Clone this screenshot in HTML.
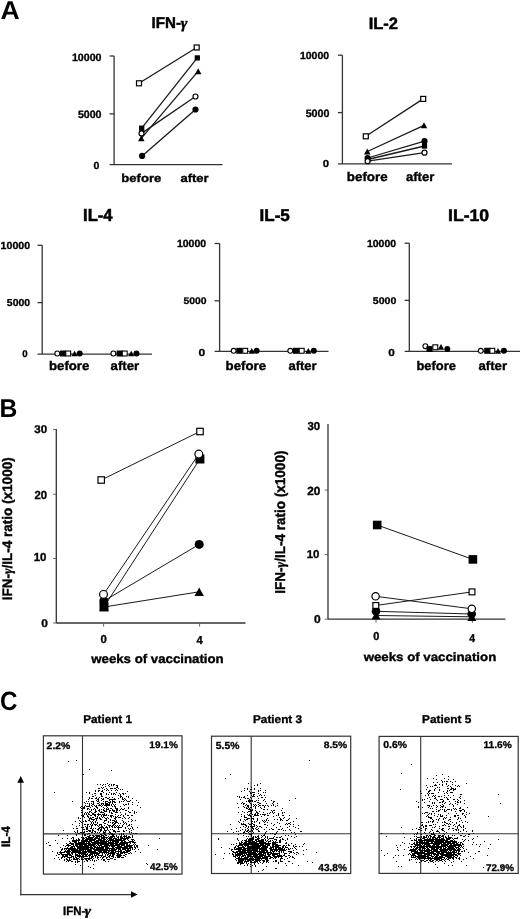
<!DOCTYPE html>
<html><head><meta charset="utf-8"><style>
html,body{margin:0;padding:0;background:#fff;}
svg{display:block;will-change:transform;}
text{font-family:"Liberation Sans",sans-serif;font-weight:bold;fill:#000;stroke:#000;text-rendering:geometricPrecision;}
text.g{font-family:"Liberation Serif",serif;font-style:italic;}
text.L{font-weight:normal;}
tspan.gi{font-family:"Liberation Serif",serif;font-style:italic;font-weight:bold;}
</style></head><body>
<svg width="520" height="919" viewBox="0 0 520 919">
<rect width="520" height="919" fill="#fff"/>
<line x1="114.10" y1="56.00" x2="114.10" y2="164.60" stroke="#333" stroke-width="1.3"/>
<line x1="109.60" y1="56.00" x2="114.10" y2="56.00" stroke="#333" stroke-width="1.3"/>
<line x1="109.60" y1="113.90" x2="114.10" y2="113.90" stroke="#333" stroke-width="1.3"/>
<line x1="109.60" y1="164.60" x2="222.50" y2="164.60" stroke="#333" stroke-width="1.3"/>
<line x1="342.40" y1="55.20" x2="342.40" y2="163.90" stroke="#333" stroke-width="1.3"/>
<line x1="337.90" y1="55.20" x2="342.40" y2="55.20" stroke="#333" stroke-width="1.3"/>
<line x1="337.90" y1="112.60" x2="342.40" y2="112.60" stroke="#333" stroke-width="1.3"/>
<line x1="337.90" y1="163.90" x2="452.00" y2="163.90" stroke="#333" stroke-width="1.3"/>
<line x1="42.20" y1="245.30" x2="42.20" y2="354.10" stroke="#333" stroke-width="1.3"/>
<line x1="37.50" y1="245.30" x2="42.20" y2="245.30" stroke="#333" stroke-width="1.3"/>
<line x1="37.50" y1="302.60" x2="42.20" y2="302.60" stroke="#333" stroke-width="1.3"/>
<line x1="37.50" y1="354.10" x2="152.00" y2="354.10" stroke="#333" stroke-width="1.3"/>
<line x1="219.60" y1="243.50" x2="219.60" y2="351.30" stroke="#333" stroke-width="1.3"/>
<line x1="214.60" y1="243.50" x2="219.60" y2="243.50" stroke="#333" stroke-width="1.3"/>
<line x1="214.60" y1="300.80" x2="219.60" y2="300.80" stroke="#333" stroke-width="1.3"/>
<line x1="214.60" y1="351.30" x2="328.50" y2="351.30" stroke="#333" stroke-width="1.3"/>
<line x1="409.30" y1="243.20" x2="409.30" y2="351.30" stroke="#333" stroke-width="1.3"/>
<line x1="404.60" y1="243.20" x2="409.30" y2="243.20" stroke="#333" stroke-width="1.3"/>
<line x1="404.60" y1="300.40" x2="409.30" y2="300.40" stroke="#333" stroke-width="1.3"/>
<line x1="404.60" y1="351.30" x2="520.00" y2="351.30" stroke="#333" stroke-width="1.3"/>
<line x1="139.00" y1="83.30" x2="196.70" y2="47.50" stroke="#1a1a1a" stroke-width="1.3"/>
<line x1="141.70" y1="128.20" x2="197.30" y2="57.90" stroke="#1a1a1a" stroke-width="1.3"/>
<line x1="141.30" y1="138.30" x2="198.20" y2="71.20" stroke="#1a1a1a" stroke-width="1.3"/>
<line x1="142.10" y1="155.90" x2="195.50" y2="109.50" stroke="#1a1a1a" stroke-width="1.3"/>
<line x1="141.50" y1="133.40" x2="195.50" y2="96.50" stroke="#1a1a1a" stroke-width="1.3"/>
<rect x="136.50" y="80.80" width="5.00" height="5.00" fill="#fff" stroke="#000" stroke-width="1.2"/>
<rect x="194.20" y="45.00" width="5.00" height="5.00" fill="#fff" stroke="#000" stroke-width="1.2"/>
<rect x="139.06" y="125.56" width="5.27" height="5.27" fill="#000"/>
<rect x="194.67" y="55.27" width="5.27" height="5.27" fill="#000"/>
<path d="M141.30 135.36L144.56 141.25L138.05 141.25Z" fill="#000"/>
<path d="M198.20 68.26L201.45 74.14L194.94 74.14Z" fill="#000"/>
<circle cx="142.10" cy="155.90" r="3.10" fill="#000"/>
<circle cx="195.50" cy="109.50" r="3.10" fill="#000"/>
<circle cx="141.50" cy="133.40" r="2.50" fill="#fff" stroke="#000" stroke-width="1.2"/>
<circle cx="195.50" cy="96.50" r="2.50" fill="#fff" stroke="#000" stroke-width="1.2"/>
<line x1="365.80" y1="136.30" x2="423.20" y2="98.90" stroke="#1a1a1a" stroke-width="1.3"/>
<line x1="367.30" y1="151.50" x2="424.00" y2="125.30" stroke="#1a1a1a" stroke-width="1.3"/>
<line x1="367.60" y1="159.50" x2="424.50" y2="146.00" stroke="#1a1a1a" stroke-width="1.3"/>
<line x1="367.60" y1="158.00" x2="424.50" y2="141.20" stroke="#1a1a1a" stroke-width="1.3"/>
<line x1="367.60" y1="161.20" x2="424.50" y2="152.70" stroke="#1a1a1a" stroke-width="1.3"/>
<rect x="363.30" y="133.80" width="5.00" height="5.00" fill="#fff" stroke="#000" stroke-width="1.2"/>
<rect x="420.70" y="96.40" width="5.00" height="5.00" fill="#fff" stroke="#000" stroke-width="1.2"/>
<path d="M367.30 148.56L370.56 154.44L364.05 154.44Z" fill="#000"/>
<path d="M424.00 122.36L427.25 128.25L420.75 128.25Z" fill="#000"/>
<rect x="364.97" y="156.87" width="5.27" height="5.27" fill="#000"/>
<rect x="421.87" y="143.37" width="5.27" height="5.27" fill="#000"/>
<circle cx="367.60" cy="158.00" r="3.10" fill="#000"/>
<circle cx="424.50" cy="141.20" r="3.10" fill="#000"/>
<circle cx="367.60" cy="161.20" r="2.50" fill="#fff" stroke="#000" stroke-width="1.2"/>
<circle cx="424.50" cy="152.70" r="2.50" fill="#fff" stroke="#000" stroke-width="1.2"/>
<circle cx="57.30" cy="353.50" r="2.45" fill="#fff" stroke="#000" stroke-width="1.1"/>
<rect x="60.00" y="350.50" width="6.00" height="6.00" fill="#000"/>
<rect x="65.75" y="351.05" width="4.90" height="4.90" fill="#fff" stroke="#000" stroke-width="1.1"/>
<path d="M74.60 350.65L77.75 356.35L71.45 356.35Z" fill="#000"/>
<circle cx="79.70" cy="353.50" r="3.00" fill="#000"/>
<circle cx="113.40" cy="353.50" r="2.45" fill="#fff" stroke="#000" stroke-width="1.1"/>
<rect x="116.60" y="350.50" width="6.00" height="6.00" fill="#000"/>
<rect x="122.25" y="351.05" width="4.90" height="4.90" fill="#fff" stroke="#000" stroke-width="1.1"/>
<path d="M131.20 350.65L134.35 356.35L128.05 356.35Z" fill="#000"/>
<circle cx="136.50" cy="353.50" r="3.00" fill="#000"/>
<circle cx="233.70" cy="350.80" r="2.45" fill="#fff" stroke="#000" stroke-width="1.1"/>
<rect x="236.30" y="347.80" width="6.00" height="6.00" fill="#000"/>
<rect x="242.75" y="348.35" width="4.90" height="4.90" fill="#fff" stroke="#000" stroke-width="1.1"/>
<path d="M251.70 347.95L254.85 353.65L248.55 353.65Z" fill="#000"/>
<circle cx="256.60" cy="350.80" r="3.00" fill="#000"/>
<circle cx="290.30" cy="350.80" r="2.45" fill="#fff" stroke="#000" stroke-width="1.1"/>
<rect x="292.90" y="347.80" width="6.00" height="6.00" fill="#000"/>
<rect x="299.25" y="348.35" width="4.90" height="4.90" fill="#fff" stroke="#000" stroke-width="1.1"/>
<path d="M308.30 347.95L311.45 353.65L305.15 353.65Z" fill="#000"/>
<circle cx="313.80" cy="350.80" r="3.00" fill="#000"/>
<circle cx="425.40" cy="346.20" r="2.45" fill="#fff" stroke="#000" stroke-width="1.1"/>
<rect x="426.50" y="346.00" width="6.00" height="6.00" fill="#000"/>
<rect x="432.85" y="344.85" width="4.90" height="4.90" fill="#fff" stroke="#000" stroke-width="1.1"/>
<path d="M441.00 343.95L444.15 349.65L437.85 349.65Z" fill="#000"/>
<circle cx="447.30" cy="349.00" r="3.00" fill="#000"/>
<circle cx="480.80" cy="350.80" r="2.45" fill="#fff" stroke="#000" stroke-width="1.1"/>
<rect x="484.20" y="347.80" width="6.00" height="6.00" fill="#000"/>
<rect x="489.85" y="348.35" width="4.90" height="4.90" fill="#fff" stroke="#000" stroke-width="1.1"/>
<path d="M498.00 347.95L501.15 353.65L494.85 353.65Z" fill="#000"/>
<circle cx="503.90" cy="350.80" r="3.00" fill="#000"/>
<line x1="56.30" y1="429.00" x2="56.30" y2="623.00" stroke="#333" stroke-width="1.3"/>
<line x1="53.10" y1="429.50" x2="56.30" y2="429.50" stroke="#555" stroke-width="0.9"/>
<line x1="53.10" y1="494.30" x2="56.30" y2="494.30" stroke="#555" stroke-width="0.9"/>
<line x1="53.10" y1="558.50" x2="56.30" y2="558.50" stroke="#555" stroke-width="0.9"/>
<line x1="53.10" y1="623.00" x2="56.30" y2="623.00" stroke="#555" stroke-width="0.9"/>
<line x1="56.30" y1="623.00" x2="245.50" y2="623.00" stroke="#333" stroke-width="1.3"/>
<line x1="103.60" y1="623.00" x2="103.60" y2="626.50" stroke="#555" stroke-width="0.9"/>
<line x1="199.60" y1="623.00" x2="199.60" y2="626.50" stroke="#555" stroke-width="0.9"/>
<line x1="328.00" y1="424.10" x2="328.00" y2="619.20" stroke="#333" stroke-width="1.3"/>
<line x1="324.80" y1="490.10" x2="328.00" y2="490.10" stroke="#555" stroke-width="0.9"/>
<line x1="324.80" y1="554.60" x2="328.00" y2="554.60" stroke="#555" stroke-width="0.9"/>
<line x1="324.80" y1="619.20" x2="328.00" y2="619.20" stroke="#555" stroke-width="0.9"/>
<line x1="328.00" y1="619.20" x2="505.50" y2="619.20" stroke="#333" stroke-width="1.3"/>
<line x1="376.00" y1="619.20" x2="376.00" y2="622.70" stroke="#555" stroke-width="0.9"/>
<line x1="472.40" y1="619.20" x2="472.40" y2="622.70" stroke="#555" stroke-width="0.9"/>
<line x1="101.20" y1="480.00" x2="200.00" y2="431.50" stroke="#1a1a1a" stroke-width="1.0"/>
<line x1="104.00" y1="607.00" x2="199.20" y2="591.80" stroke="#1a1a1a" stroke-width="1.0"/>
<line x1="103.80" y1="601.00" x2="199.20" y2="544.40" stroke="#1a1a1a" stroke-width="1.0"/>
<line x1="104.00" y1="606.80" x2="199.90" y2="459.00" stroke="#1a1a1a" stroke-width="1.0"/>
<line x1="103.50" y1="594.40" x2="198.80" y2="454.10" stroke="#1a1a1a" stroke-width="1.0"/>
<rect x="97.98" y="476.77" width="6.45" height="6.45" fill="#fff" stroke="#000" stroke-width="1.2"/>
<rect x="196.78" y="428.27" width="6.45" height="6.45" fill="#fff" stroke="#000" stroke-width="1.2"/>
<path d="M104.00 602.73L108.72 611.27L99.28 611.27Z" fill="#000"/>
<path d="M199.20 587.52L203.92 596.07L194.47 596.07Z" fill="#000"/>
<circle cx="103.80" cy="601.00" r="4.50" fill="#000"/>
<circle cx="199.20" cy="544.40" r="4.50" fill="#000"/>
<rect x="99.50" y="602.30" width="9.00" height="9.00" fill="#000"/>
<rect x="195.40" y="454.50" width="9.00" height="9.00" fill="#000"/>
<circle cx="103.50" cy="594.40" r="3.90" fill="#fff" stroke="#000" stroke-width="1.2"/>
<circle cx="198.80" cy="454.10" r="3.90" fill="#fff" stroke="#000" stroke-width="1.2"/>
<line x1="377.20" y1="525.00" x2="472.90" y2="559.40" stroke="#1a1a1a" stroke-width="1.0"/>
<line x1="376.00" y1="615.50" x2="471.80" y2="616.80" stroke="#1a1a1a" stroke-width="1.0"/>
<line x1="376.00" y1="611.30" x2="471.70" y2="614.00" stroke="#1a1a1a" stroke-width="1.0"/>
<line x1="375.80" y1="605.50" x2="472.00" y2="591.90" stroke="#1a1a1a" stroke-width="1.0"/>
<line x1="375.60" y1="596.30" x2="471.80" y2="608.80" stroke="#1a1a1a" stroke-width="1.0"/>
<rect x="372.90" y="520.70" width="8.60" height="8.60" fill="#000"/>
<rect x="468.60" y="555.10" width="8.60" height="8.60" fill="#000"/>
<path d="M376.00 611.41L380.51 619.59L371.49 619.59Z" fill="#000"/>
<path d="M471.80 612.71L476.31 620.88L467.29 620.88Z" fill="#000"/>
<circle cx="376.00" cy="611.30" r="4.30" fill="#000"/>
<circle cx="471.70" cy="614.00" r="4.30" fill="#000"/>
<rect x="372.87" y="602.57" width="5.85" height="5.85" fill="#fff" stroke="#000" stroke-width="1.2"/>
<rect x="469.07" y="588.97" width="5.85" height="5.85" fill="#fff" stroke="#000" stroke-width="1.2"/>
<circle cx="375.60" cy="596.30" r="3.70" fill="#fff" stroke="#000" stroke-width="1.2"/>
<circle cx="471.80" cy="608.80" r="3.70" fill="#fff" stroke="#000" stroke-width="1.2"/>
<rect x="43.40" y="735.80" width="138.60" height="138.30" fill="none" stroke="#333" stroke-width="1.2"/>
<line x1="82.50" y1="735.80" x2="82.50" y2="874.10" stroke="#333" stroke-width="1.1"/>
<line x1="43.40" y1="833.90" x2="182.00" y2="833.90" stroke="#333" stroke-width="1.1"/>
<rect x="211.50" y="736.20" width="139.20" height="137.30" fill="none" stroke="#333" stroke-width="1.2"/>
<line x1="251.20" y1="736.20" x2="251.20" y2="873.50" stroke="#333" stroke-width="1.1"/>
<line x1="211.50" y1="833.80" x2="350.70" y2="833.80" stroke="#333" stroke-width="1.1"/>
<rect x="379.10" y="736.40" width="139.10" height="137.00" fill="none" stroke="#333" stroke-width="1.2"/>
<line x1="420.70" y1="736.40" x2="420.70" y2="873.40" stroke="#333" stroke-width="1.1"/>
<line x1="379.10" y1="833.80" x2="518.20" y2="833.80" stroke="#333" stroke-width="1.1"/>
<line x1="20.80" y1="895.30" x2="20.80" y2="782.00" stroke="#333" stroke-width="1.2"/>
<path d="M20.7 776L24 782.7L17.3 782.7Z" fill="#000"/>
<line x1="20.20" y1="894.70" x2="131.50" y2="894.70" stroke="#333" stroke-width="1.2"/>
<path d="M137.6 894.5L131 891.2L131 897.8Z" fill="#000"/>
<path d="M76 760h1v1h-1zM68 761h1v1h-1zM89 769h1v1h-1zM111 770h1v1h-1zM83 774h1v1h-1zM107 783h1v1h-1zM97 784h1v1h-1zM100 784h1v1h-1zM103 784h1v1h-1zM105 784h1v1h-1zM109 784h1v1h-1zM111 784h1v1h-1zM113 784h2v1h-2zM102 785h1v1h-1zM108 785h1v1h-1zM111 785h1v1h-1zM113 785h1v1h-1zM116 785h2v1h-2zM105 786h1v1h-1zM109 786h1v1h-1zM117 786h1v1h-1zM101 787h1v1h-1zM103 787h1v1h-1zM116 787h2v1h-2zM98 788h2v1h-2zM102 788h1v1h-1zM106 788h1v1h-1zM110 788h3v1h-3zM114 788h2v1h-2zM118 788h1v1h-1zM104 789h1v1h-1zM107 789h1v1h-1zM116 789h1v1h-1zM120 789h1v1h-1zM122 789h1v1h-1zM95 790h1v1h-1zM98 790h2v1h-2zM102 790h1v1h-1zM106 790h1v1h-1zM108 790h1v1h-1zM111 790h1v1h-1zM115 790h1v1h-1zM117 790h1v1h-1zM95 791h1v1h-1zM98 791h1v1h-1zM101 791h2v1h-2zM127 791h1v1h-1zM54 792h1v1h-1zM86 792h1v1h-1zM89 792h1v1h-1zM103 792h1v1h-1zM109 792h1v1h-1zM116 792h1v1h-1zM89 793h1v1h-1zM94 793h2v1h-2zM100 793h2v1h-2zM106 793h1v1h-1zM111 793h1v1h-1zM113 793h2v1h-2zM119 793h1v1h-1zM122 793h2v1h-2zM125 793h1v1h-1zM92 794h1v1h-1zM100 794h2v1h-2zM106 794h1v1h-1zM108 794h1v1h-1zM111 794h1v1h-1zM113 794h1v1h-1zM115 794h1v1h-1zM120 794h1v1h-1zM123 794h1v1h-1zM95 795h1v1h-1zM101 795h1v1h-1zM118 795h1v1h-1zM120 795h1v1h-1zM82 796h1v1h-1zM92 796h2v1h-2zM101 796h2v1h-2zM120 796h2v1h-2zM126 796h1v1h-1zM128 796h1v1h-1zM89 797h1v1h-1zM96 797h1v1h-1zM99 797h1v1h-1zM105 797h2v1h-2zM109 797h1v1h-1zM112 797h1v1h-1zM120 797h1v1h-1zM122 797h1v1h-1zM128 797h1v1h-1zM89 798h1v1h-1zM91 798h2v1h-2zM95 798h2v1h-2zM98 798h1v1h-1zM101 798h1v1h-1zM103 798h1v1h-1zM107 798h2v1h-2zM114 798h1v1h-1zM118 798h1v1h-1zM122 798h1v1h-1zM124 798h1v1h-1zM132 798h1v1h-1zM88 799h1v1h-1zM97 799h2v1h-2zM102 799h2v1h-2zM109 799h7v1h-7zM122 799h2v1h-2zM125 799h1v1h-1zM96 800h1v1h-1zM98 800h1v1h-1zM101 800h1v1h-1zM109 800h1v1h-1zM112 800h1v1h-1zM124 800h1v1h-1zM126 800h1v1h-1zM130 800h1v1h-1zM136 800h1v1h-1zM72 801h1v1h-1zM86 801h1v1h-1zM88 801h1v1h-1zM91 801h3v1h-3zM97 801h2v1h-2zM103 801h1v1h-1zM105 801h3v1h-3zM110 801h1v1h-1zM112 801h3v1h-3zM119 801h1v1h-1zM121 801h1v1h-1zM123 801h1v1h-1zM127 801h3v1h-3zM82 802h1v1h-1zM84 802h1v1h-1zM93 802h1v1h-1zM99 802h1v1h-1zM105 802h1v1h-1zM108 802h3v1h-3zM112 802h1v1h-1zM114 802h2v1h-2zM119 802h1v1h-1zM132 802h1v1h-1zM138 802h1v1h-1zM85 803h1v1h-1zM87 803h1v1h-1zM89 803h1v1h-1zM91 803h1v1h-1zM93 803h1v1h-1zM97 803h2v1h-2zM101 803h3v1h-3zM105 803h3v1h-3zM109 803h1v1h-1zM112 803h1v1h-1zM128 803h1v1h-1zM89 804h1v1h-1zM92 804h2v1h-2zM99 804h1v1h-1zM101 804h1v1h-1zM103 804h1v1h-1zM105 804h5v1h-5zM111 804h1v1h-1zM113 804h1v1h-1zM115 804h1v1h-1zM123 804h1v1h-1zM125 804h2v1h-2zM128 804h1v1h-1zM132 804h1v1h-1zM85 805h1v1h-1zM89 805h1v1h-1zM91 805h1v1h-1zM94 805h1v1h-1zM96 805h1v1h-1zM98 805h3v1h-3zM102 805h1v1h-1zM104 805h6v1h-6zM111 805h1v1h-1zM114 805h1v1h-1zM124 805h1v1h-1zM137 805h1v1h-1zM81 806h1v1h-1zM84 806h1v1h-1zM86 806h4v1h-4zM92 806h1v1h-1zM95 806h2v1h-2zM101 806h1v1h-1zM106 806h1v1h-1zM112 806h1v1h-1zM114 806h2v1h-2zM120 806h1v1h-1zM80 807h1v1h-1zM83 807h2v1h-2zM90 807h1v1h-1zM96 807h2v1h-2zM103 807h1v1h-1zM107 807h1v1h-1zM115 807h1v1h-1zM128 807h1v1h-1zM140 807h1v1h-1zM81 808h1v1h-1zM83 808h2v1h-2zM87 808h2v1h-2zM94 808h1v1h-1zM97 808h1v1h-1zM104 808h1v1h-1zM106 808h1v1h-1zM108 808h1v1h-1zM110 808h2v1h-2zM115 808h3v1h-3zM121 808h1v1h-1zM124 808h1v1h-1zM128 808h1v1h-1zM82 809h1v1h-1zM87 809h1v1h-1zM89 809h1v1h-1zM91 809h1v1h-1zM93 809h1v1h-1zM95 809h1v1h-1zM99 809h1v1h-1zM101 809h1v1h-1zM103 809h1v1h-1zM106 809h3v1h-3zM112 809h1v1h-1zM116 809h2v1h-2zM120 809h1v1h-1zM122 809h2v1h-2zM81 810h1v1h-1zM91 810h1v1h-1zM95 810h1v1h-1zM98 810h2v1h-2zM103 810h2v1h-2zM106 810h1v1h-1zM109 810h2v1h-2zM112 810h3v1h-3zM116 810h2v1h-2zM119 810h1v1h-1zM125 810h2v1h-2zM132 810h1v1h-1zM89 811h2v1h-2zM95 811h2v1h-2zM99 811h1v1h-1zM101 811h1v1h-1zM104 811h3v1h-3zM109 811h1v1h-1zM113 811h2v1h-2zM116 811h1v1h-1zM128 811h1v1h-1zM134 811h1v1h-1zM81 812h2v1h-2zM85 812h1v1h-1zM87 812h1v1h-1zM89 812h1v1h-1zM91 812h1v1h-1zM94 812h2v1h-2zM100 812h4v1h-4zM109 812h1v1h-1zM111 812h1v1h-1zM115 812h3v1h-3zM120 812h1v1h-1zM129 812h2v1h-2zM134 812h1v1h-1zM136 812h1v1h-1zM84 813h1v1h-1zM86 813h1v1h-1zM88 813h1v1h-1zM92 813h2v1h-2zM98 813h1v1h-1zM104 813h1v1h-1zM111 813h2v1h-2zM125 813h1v1h-1zM134 813h1v1h-1zM82 814h1v1h-1zM84 814h1v1h-1zM86 814h1v1h-1zM88 814h2v1h-2zM92 814h4v1h-4zM97 814h4v1h-4zM102 814h3v1h-3zM106 814h1v1h-1zM115 814h1v1h-1zM121 814h1v1h-1zM125 814h1v1h-1zM81 815h1v1h-1zM83 815h1v1h-1zM87 815h1v1h-1zM90 815h2v1h-2zM94 815h2v1h-2zM98 815h1v1h-1zM101 815h1v1h-1zM103 815h4v1h-4zM108 815h1v1h-1zM110 815h3v1h-3zM118 815h1v1h-1zM120 815h1v1h-1zM123 815h1v1h-1zM127 815h2v1h-2zM131 815h2v1h-2zM82 816h2v1h-2zM87 816h2v1h-2zM95 816h1v1h-1zM97 816h1v1h-1zM101 816h1v1h-1zM103 816h1v1h-1zM110 816h2v1h-2zM113 816h1v1h-1zM115 816h1v1h-1zM117 816h1v1h-1zM123 816h1v1h-1zM78 817h1v1h-1zM84 817h1v1h-1zM88 817h1v1h-1zM90 817h1v1h-1zM92 817h2v1h-2zM97 817h1v1h-1zM99 817h1v1h-1zM102 817h1v1h-1zM104 817h1v1h-1zM107 817h1v1h-1zM111 817h1v1h-1zM115 817h2v1h-2zM118 817h3v1h-3zM124 817h1v1h-1zM129 817h1v1h-1zM78 818h1v1h-1zM80 818h1v1h-1zM89 818h3v1h-3zM95 818h3v1h-3zM99 818h2v1h-2zM105 818h2v1h-2zM108 818h1v1h-1zM114 818h2v1h-2zM122 818h1v1h-1zM125 818h1v1h-1zM128 818h1v1h-1zM89 819h1v1h-1zM91 819h4v1h-4zM96 819h1v1h-1zM100 819h2v1h-2zM106 819h1v1h-1zM110 819h1v1h-1zM115 819h1v1h-1zM131 819h1v1h-1zM79 820h1v1h-1zM85 820h1v1h-1zM88 820h2v1h-2zM93 820h1v1h-1zM96 820h1v1h-1zM104 820h3v1h-3zM110 820h1v1h-1zM112 820h3v1h-3zM116 820h1v1h-1zM122 820h1v1h-1zM132 820h1v1h-1zM135 820h1v1h-1zM75 821h1v1h-1zM80 821h1v1h-1zM83 821h1v1h-1zM85 821h2v1h-2zM90 821h1v1h-1zM92 821h1v1h-1zM95 821h1v1h-1zM104 821h1v1h-1zM108 821h1v1h-1zM114 821h3v1h-3zM123 821h1v1h-1zM128 821h1v1h-1zM131 821h1v1h-1zM81 822h1v1h-1zM91 822h1v1h-1zM93 822h1v1h-1zM95 822h1v1h-1zM97 822h1v1h-1zM103 822h1v1h-1zM108 822h1v1h-1zM110 822h1v1h-1zM112 822h2v1h-2zM115 822h3v1h-3zM123 822h1v1h-1zM125 822h1v1h-1zM79 823h1v1h-1zM82 823h1v1h-1zM91 823h1v1h-1zM93 823h1v1h-1zM97 823h1v1h-1zM104 823h2v1h-2zM112 823h1v1h-1zM114 823h2v1h-2zM118 823h1v1h-1zM120 823h1v1h-1zM124 823h1v1h-1zM126 823h1v1h-1zM72 824h1v1h-1zM84 824h2v1h-2zM87 824h2v1h-2zM90 824h1v1h-1zM92 824h1v1h-1zM94 824h3v1h-3zM99 824h3v1h-3zM107 824h1v1h-1zM113 824h2v1h-2zM123 824h1v1h-1zM126 824h1v1h-1zM129 824h1v1h-1zM131 824h1v1h-1zM79 825h1v1h-1zM82 825h1v1h-1zM87 825h1v1h-1zM91 825h2v1h-2zM95 825h1v1h-1zM97 825h1v1h-1zM99 825h1v1h-1zM101 825h1v1h-1zM104 825h1v1h-1zM108 825h3v1h-3zM112 825h2v1h-2zM115 825h1v1h-1zM117 825h1v1h-1zM119 825h1v1h-1zM122 825h1v1h-1zM128 825h2v1h-2zM76 826h1v1h-1zM85 826h1v1h-1zM87 826h1v1h-1zM89 826h1v1h-1zM91 826h1v1h-1zM98 826h1v1h-1zM101 826h2v1h-2zM106 826h1v1h-1zM109 826h1v1h-1zM111 826h2v1h-2zM114 826h1v1h-1zM116 826h1v1h-1zM118 826h1v1h-1zM122 826h1v1h-1zM127 826h1v1h-1zM131 826h1v1h-1zM81 827h1v1h-1zM83 827h1v1h-1zM86 827h2v1h-2zM91 827h1v1h-1zM99 827h5v1h-5zM105 827h3v1h-3zM109 827h1v1h-1zM112 827h1v1h-1zM114 827h2v1h-2zM117 827h5v1h-5zM125 827h1v1h-1zM132 827h1v1h-1zM137 827h1v1h-1zM73 828h1v1h-1zM76 828h2v1h-2zM86 828h2v1h-2zM90 828h2v1h-2zM93 828h1v1h-1zM95 828h1v1h-1zM98 828h2v1h-2zM101 828h1v1h-1zM103 828h2v1h-2zM107 828h1v1h-1zM118 828h1v1h-1zM125 828h1v1h-1zM128 828h1v1h-1zM130 828h1v1h-1zM132 828h1v1h-1zM83 829h2v1h-2zM86 829h2v1h-2zM92 829h1v1h-1zM97 829h2v1h-2zM100 829h2v1h-2zM104 829h1v1h-1zM107 829h1v1h-1zM110 829h1v1h-1zM112 829h1v1h-1zM118 829h1v1h-1zM129 829h1v1h-1zM133 829h1v1h-1zM63 830h1v1h-1zM77 830h1v1h-1zM88 830h3v1h-3zM92 830h2v1h-2zM98 830h1v1h-1zM100 830h2v1h-2zM104 830h3v1h-3zM108 830h1v1h-1zM113 830h2v1h-2zM123 830h1v1h-1zM126 830h1v1h-1zM131 830h1v1h-1zM74 831h1v1h-1zM77 831h1v1h-1zM84 831h1v1h-1zM86 831h2v1h-2zM89 831h2v1h-2zM92 831h1v1h-1zM94 831h2v1h-2zM100 831h1v1h-1zM103 831h1v1h-1zM105 831h1v1h-1zM109 831h1v1h-1zM113 831h3v1h-3zM117 831h3v1h-3zM123 831h2v1h-2zM129 831h1v1h-1zM75 832h1v1h-1zM77 832h1v1h-1zM80 832h2v1h-2zM83 832h2v1h-2zM91 832h2v1h-2zM95 832h1v1h-1zM97 832h1v1h-1zM99 832h1v1h-1zM103 832h3v1h-3zM109 832h2v1h-2zM115 832h1v1h-1zM129 832h1v1h-1zM131 832h1v1h-1zM78 833h2v1h-2zM83 833h1v1h-1zM88 833h2v1h-2zM94 833h1v1h-1zM103 833h2v1h-2zM108 833h1v1h-1zM110 833h3v1h-3zM121 833h1v1h-1zM123 833h1v1h-1zM133 833h1v1h-1zM135 833h2v1h-2zM76 834h1v1h-1zM82 834h1v1h-1zM84 834h2v1h-2zM87 834h1v1h-1zM100 834h2v1h-2zM104 834h2v1h-2zM109 834h1v1h-1zM111 834h4v1h-4zM119 834h1v1h-1zM121 834h1v1h-1zM123 834h1v1h-1zM130 834h1v1h-1zM58 835h1v1h-1zM67 835h1v1h-1zM76 835h1v1h-1zM84 835h2v1h-2zM89 835h2v1h-2zM92 835h2v1h-2zM95 835h5v1h-5zM101 835h3v1h-3zM105 835h2v1h-2zM112 835h2v1h-2zM116 835h1v1h-1zM121 835h1v1h-1zM124 835h1v1h-1zM126 835h1v1h-1zM132 835h1v1h-1zM87 836h3v1h-3zM93 836h2v1h-2zM96 836h6v1h-6zM103 836h2v1h-2zM108 836h1v1h-1zM110 836h5v1h-5zM116 836h1v1h-1zM118 836h1v1h-1zM120 836h2v1h-2zM123 836h4v1h-4zM128 836h2v1h-2zM132 836h1v1h-1zM72 837h2v1h-2zM81 837h1v1h-1zM83 837h1v1h-1zM85 837h2v1h-2zM88 837h6v1h-6zM95 837h3v1h-3zM99 837h1v1h-1zM101 837h7v1h-7zM109 837h4v1h-4zM114 837h1v1h-1zM117 837h2v1h-2zM120 837h3v1h-3zM124 837h1v1h-1zM126 837h5v1h-5zM132 837h1v1h-1zM62 838h1v1h-1zM67 838h1v1h-1zM71 838h1v1h-1zM73 838h1v1h-1zM78 838h1v1h-1zM82 838h3v1h-3zM86 838h7v1h-7zM94 838h6v1h-6zM101 838h4v1h-4zM106 838h1v1h-1zM108 838h4v1h-4zM113 838h4v1h-4zM118 838h1v1h-1zM120 838h9v1h-9zM159 838h1v1h-1zM73 839h1v1h-1zM76 839h1v1h-1zM78 839h2v1h-2zM82 839h2v1h-2zM85 839h11v1h-11zM98 839h4v1h-4zM103 839h3v1h-3zM107 839h1v1h-1zM109 839h5v1h-5zM115 839h7v1h-7zM123 839h3v1h-3zM127 839h1v1h-1zM131 839h3v1h-3zM55 840h1v1h-1zM72 840h8v1h-8zM81 840h7v1h-7zM89 840h6v1h-6zM96 840h9v1h-9zM106 840h1v1h-1zM108 840h17v1h-17zM128 840h1v1h-1zM132 840h1v1h-1zM134 840h1v1h-1zM69 841h1v1h-1zM72 841h5v1h-5zM78 841h1v1h-1zM81 841h11v1h-11zM94 841h5v1h-5zM100 841h9v1h-9zM110 841h1v1h-1zM112 841h7v1h-7zM121 841h2v1h-2zM124 841h2v1h-2zM129 841h5v1h-5zM48 842h1v1h-1zM70 842h1v1h-1zM74 842h3v1h-3zM78 842h7v1h-7zM86 842h1v1h-1zM88 842h2v1h-2zM91 842h16v1h-16zM108 842h6v1h-6zM115 842h4v1h-4zM120 842h11v1h-11zM132 842h4v1h-4zM46 843h1v1h-1zM57 843h1v1h-1zM66 843h1v1h-1zM69 843h5v1h-5zM75 843h16v1h-16zM92 843h26v1h-26zM119 843h9v1h-9zM130 843h1v1h-1zM134 843h1v1h-1zM67 844h2v1h-2zM71 844h3v1h-3zM75 844h12v1h-12zM88 844h8v1h-8zM97 844h2v1h-2zM100 844h9v1h-9zM110 844h4v1h-4zM115 844h10v1h-10zM126 844h2v1h-2zM129 844h1v1h-1zM133 844h1v1h-1zM135 844h1v1h-1zM49 845h2v1h-2zM63 845h1v1h-1zM66 845h5v1h-5zM73 845h1v1h-1zM75 845h3v1h-3zM79 845h4v1h-4zM84 845h11v1h-11zM96 845h1v1h-1zM98 845h4v1h-4zM104 845h16v1h-16zM121 845h4v1h-4zM126 845h7v1h-7zM134 845h1v1h-1zM136 845h2v1h-2zM148 845h1v1h-1zM65 846h1v1h-1zM68 846h1v1h-1zM71 846h4v1h-4zM76 846h13v1h-13zM90 846h2v1h-2zM93 846h3v1h-3zM97 846h1v1h-1zM99 846h1v1h-1zM101 846h7v1h-7zM109 846h1v1h-1zM111 846h4v1h-4zM117 846h5v1h-5zM124 846h8v1h-8zM134 846h1v1h-1zM136 846h2v1h-2zM60 847h1v1h-1zM67 847h1v1h-1zM70 847h3v1h-3zM74 847h1v1h-1zM77 847h16v1h-16zM94 847h10v1h-10zM105 847h4v1h-4zM112 847h2v1h-2zM115 847h13v1h-13zM129 847h4v1h-4zM134 847h2v1h-2zM137 847h1v1h-1zM62 848h1v1h-1zM64 848h12v1h-12zM77 848h12v1h-12zM90 848h5v1h-5zM96 848h8v1h-8zM105 848h10v1h-10zM116 848h5v1h-5zM122 848h9v1h-9zM132 848h1v1h-1zM135 848h1v1h-1zM61 849h2v1h-2zM64 849h1v1h-1zM66 849h1v1h-1zM68 849h10v1h-10zM79 849h13v1h-13zM93 849h15v1h-15zM109 849h1v1h-1zM111 849h6v1h-6zM118 849h3v1h-3zM122 849h4v1h-4zM127 849h2v1h-2zM130 849h1v1h-1zM132 849h1v1h-1zM134 849h1v1h-1zM138 849h1v1h-1zM157 849h1v1h-1zM61 850h1v1h-1zM65 850h1v1h-1zM67 850h3v1h-3zM71 850h11v1h-11zM83 850h1v1h-1zM85 850h1v1h-1zM87 850h5v1h-5zM94 850h22v1h-22zM118 850h1v1h-1zM120 850h2v1h-2zM125 850h6v1h-6zM52 851h1v1h-1zM60 851h1v1h-1zM64 851h7v1h-7zM72 851h9v1h-9zM82 851h14v1h-14zM98 851h4v1h-4zM103 851h4v1h-4zM108 851h2v1h-2zM111 851h3v1h-3zM115 851h7v1h-7zM123 851h2v1h-2zM126 851h4v1h-4zM135 851h1v1h-1zM57 852h1v1h-1zM59 852h6v1h-6zM66 852h4v1h-4zM71 852h11v1h-11zM83 852h4v1h-4zM88 852h10v1h-10zM99 852h10v1h-10zM110 852h6v1h-6zM118 852h1v1h-1zM120 852h8v1h-8zM130 852h1v1h-1zM140 852h1v1h-1zM57 853h1v1h-1zM60 853h2v1h-2zM67 853h3v1h-3zM71 853h2v1h-2zM75 853h1v1h-1zM78 853h8v1h-8zM87 853h1v1h-1zM90 853h10v1h-10zM102 853h1v1h-1zM104 853h1v1h-1zM106 853h1v1h-1zM108 853h7v1h-7zM116 853h3v1h-3zM120 853h3v1h-3zM124 853h1v1h-1zM128 853h2v1h-2zM131 853h1v1h-1zM58 854h2v1h-2zM61 854h10v1h-10zM72 854h1v1h-1zM75 854h3v1h-3zM79 854h1v1h-1zM81 854h1v1h-1zM83 854h5v1h-5zM89 854h4v1h-4zM94 854h1v1h-1zM96 854h3v1h-3zM102 854h1v1h-1zM105 854h1v1h-1zM107 854h2v1h-2zM110 854h1v1h-1zM112 854h3v1h-3zM117 854h4v1h-4zM125 854h2v1h-2zM56 855h1v1h-1zM62 855h2v1h-2zM65 855h3v1h-3zM69 855h3v1h-3zM75 855h6v1h-6zM82 855h2v1h-2zM85 855h2v1h-2zM88 855h3v1h-3zM92 855h1v1h-1zM94 855h3v1h-3zM98 855h5v1h-5zM105 855h1v1h-1zM107 855h1v1h-1zM109 855h2v1h-2zM112 855h2v1h-2zM116 855h6v1h-6zM123 855h2v1h-2zM62 856h6v1h-6zM71 856h3v1h-3zM75 856h1v1h-1zM77 856h11v1h-11zM89 856h1v1h-1zM91 856h3v1h-3zM95 856h1v1h-1zM97 856h1v1h-1zM101 856h1v1h-1zM103 856h3v1h-3zM108 856h2v1h-2zM111 856h3v1h-3zM117 856h4v1h-4zM125 856h1v1h-1zM58 857h1v1h-1zM61 857h2v1h-2zM64 857h1v1h-1zM67 857h5v1h-5zM73 857h1v1h-1zM75 857h2v1h-2zM79 857h1v1h-1zM81 857h1v1h-1zM83 857h1v1h-1zM89 857h1v1h-1zM91 857h2v1h-2zM95 857h1v1h-1zM97 857h2v1h-2zM100 857h1v1h-1zM102 857h2v1h-2zM106 857h2v1h-2zM109 857h1v1h-1zM113 857h1v1h-1zM115 857h1v1h-1zM117 857h3v1h-3zM121 857h3v1h-3zM54 858h1v1h-1zM61 858h1v1h-1zM66 858h1v1h-1zM69 858h1v1h-1zM73 858h2v1h-2zM76 858h3v1h-3zM81 858h1v1h-1zM84 858h8v1h-8zM93 858h1v1h-1zM97 858h1v1h-1zM102 858h1v1h-1zM106 858h1v1h-1zM110 858h3v1h-3zM59 859h1v1h-1zM64 859h1v1h-1zM66 859h2v1h-2zM69 859h1v1h-1zM71 859h1v1h-1zM73 859h5v1h-5zM79 859h1v1h-1zM81 859h3v1h-3zM85 859h2v1h-2zM88 859h2v1h-2zM92 859h1v1h-1zM98 859h1v1h-1zM101 859h1v1h-1zM103 859h2v1h-2zM107 859h3v1h-3zM114 859h2v1h-2zM64 860h1v1h-1zM67 860h4v1h-4zM77 860h1v1h-1zM86 860h2v1h-2zM90 860h1v1h-1zM92 860h1v1h-1zM94 860h1v1h-1zM96 860h1v1h-1zM103 860h2v1h-2zM66 861h1v1h-1zM68 861h1v1h-1zM71 861h2v1h-2zM75 861h1v1h-1zM77 861h3v1h-3zM84 861h1v1h-1zM87 861h1v1h-1zM94 861h1v1h-1zM105 861h1v1h-1zM108 861h1v1h-1zM75 862h1v1h-1zM77 862h1v1h-1zM82 862h1v1h-1zM146 863h1v1h-1zM75 864h1v1h-1zM93 864h1v1h-1zM147 864h1v1h-1zM80 865h1v1h-1zM88 866h1v1h-1zM90 867h1v1h-1zM93 868h1v1h-1z" fill="#000"/>
<path d="M309 760h1v1h-1zM230 774h1v1h-1zM225 778h1v1h-1zM248 783h1v1h-1zM260 783h1v1h-1zM257 784h1v1h-1zM254 785h1v1h-1zM257 785h1v1h-1zM251 787h1v1h-1zM244 788h1v1h-1zM247 788h1v1h-1zM254 788h1v1h-1zM260 788h1v1h-1zM247 789h1v1h-1zM250 789h2v1h-2zM254 789h1v1h-1zM244 790h1v1h-1zM258 790h1v1h-1zM260 790h1v1h-1zM265 790h1v1h-1zM241 791h1v1h-1zM249 791h1v1h-1zM258 791h1v1h-1zM250 792h1v1h-1zM252 792h3v1h-3zM263 792h1v1h-1zM265 792h1v1h-1zM250 793h2v1h-2zM258 793h1v1h-1zM253 794h2v1h-2zM260 794h1v1h-1zM247 795h1v1h-1zM251 795h1v1h-1zM253 795h1v1h-1zM259 795h1v1h-1zM261 795h1v1h-1zM264 795h1v1h-1zM237 796h1v1h-1zM239 796h1v1h-1zM244 796h1v1h-1zM252 796h3v1h-3zM257 796h1v1h-1zM239 797h1v1h-1zM241 797h1v1h-1zM243 797h2v1h-2zM250 797h1v1h-1zM261 797h2v1h-2zM265 797h1v1h-1zM245 798h1v1h-1zM247 798h2v1h-2zM251 798h1v1h-1zM258 798h1v1h-1zM295 798h1v1h-1zM240 799h1v1h-1zM249 799h1v1h-1zM264 799h1v1h-1zM248 800h5v1h-5zM256 800h1v1h-1zM258 800h1v1h-1zM263 800h1v1h-1zM271 800h1v1h-1zM289 800h1v1h-1zM246 801h1v1h-1zM248 801h3v1h-3zM252 801h1v1h-1zM254 801h2v1h-2zM265 801h1v1h-1zM273 801h2v1h-2zM242 802h1v1h-1zM249 802h1v1h-1zM257 802h2v1h-2zM273 802h1v1h-1zM237 803h1v1h-1zM241 803h1v1h-1zM243 803h2v1h-2zM250 803h1v1h-1zM259 803h2v1h-2zM266 803h1v1h-1zM272 803h1v1h-1zM277 803h1v1h-1zM243 804h1v1h-1zM246 804h1v1h-1zM251 804h1v1h-1zM253 804h1v1h-1zM255 804h1v1h-1zM258 804h1v1h-1zM273 804h1v1h-1zM245 805h1v1h-1zM247 805h2v1h-2zM251 805h1v1h-1zM254 805h1v1h-1zM256 805h1v1h-1zM259 805h2v1h-2zM262 805h2v1h-2zM265 805h1v1h-1zM267 805h1v1h-1zM271 805h1v1h-1zM273 805h1v1h-1zM277 805h1v1h-1zM243 806h1v1h-1zM247 806h2v1h-2zM253 806h1v1h-1zM255 806h1v1h-1zM258 806h1v1h-1zM264 806h1v1h-1zM268 806h1v1h-1zM275 806h1v1h-1zM238 807h1v1h-1zM244 807h1v1h-1zM246 807h1v1h-1zM248 807h1v1h-1zM250 807h2v1h-2zM255 807h1v1h-1zM260 807h1v1h-1zM264 807h1v1h-1zM246 808h2v1h-2zM249 808h1v1h-1zM255 808h1v1h-1zM261 808h1v1h-1zM282 808h1v1h-1zM248 809h3v1h-3zM252 809h1v1h-1zM263 809h2v1h-2zM267 809h1v1h-1zM250 810h3v1h-3zM255 810h1v1h-1zM271 810h1v1h-1zM273 810h2v1h-2zM281 810h1v1h-1zM242 811h1v1h-1zM248 811h4v1h-4zM256 811h1v1h-1zM259 811h1v1h-1zM272 811h1v1h-1zM238 812h1v1h-1zM244 812h1v1h-1zM247 812h1v1h-1zM251 812h1v1h-1zM256 812h2v1h-2zM263 812h1v1h-1zM270 812h1v1h-1zM272 812h1v1h-1zM274 812h1v1h-1zM282 812h1v1h-1zM284 812h1v1h-1zM250 813h2v1h-2zM255 813h1v1h-1zM257 813h2v1h-2zM267 813h1v1h-1zM269 813h1v1h-1zM273 813h1v1h-1zM278 813h1v1h-1zM282 813h1v1h-1zM241 814h1v1h-1zM247 814h1v1h-1zM249 814h1v1h-1zM252 814h1v1h-1zM254 814h2v1h-2zM257 814h1v1h-1zM260 814h1v1h-1zM262 814h4v1h-4zM278 814h1v1h-1zM244 815h1v1h-1zM248 815h3v1h-3zM254 815h5v1h-5zM264 815h1v1h-1zM267 815h2v1h-2zM276 815h1v1h-1zM278 815h1v1h-1zM282 815h2v1h-2zM289 815h1v1h-1zM241 816h1v1h-1zM244 816h1v1h-1zM250 816h2v1h-2zM253 816h1v1h-1zM261 816h1v1h-1zM273 816h1v1h-1zM244 817h3v1h-3zM251 817h1v1h-1zM279 817h1v1h-1zM284 817h1v1h-1zM247 818h3v1h-3zM251 818h3v1h-3zM257 818h1v1h-1zM267 818h1v1h-1zM280 818h1v1h-1zM283 818h1v1h-1zM289 818h1v1h-1zM296 818h1v1h-1zM240 819h1v1h-1zM244 819h1v1h-1zM246 819h2v1h-2zM251 819h1v1h-1zM253 819h1v1h-1zM257 819h1v1h-1zM266 819h1v1h-1zM274 819h1v1h-1zM277 819h1v1h-1zM280 819h2v1h-2zM288 819h1v1h-1zM240 820h1v1h-1zM245 820h1v1h-1zM251 820h1v1h-1zM257 820h1v1h-1zM262 820h1v1h-1zM264 820h1v1h-1zM266 820h1v1h-1zM268 820h1v1h-1zM280 820h1v1h-1zM282 820h1v1h-1zM286 820h2v1h-2zM238 821h1v1h-1zM243 821h1v1h-1zM251 821h2v1h-2zM254 821h1v1h-1zM256 821h1v1h-1zM263 821h1v1h-1zM265 821h1v1h-1zM293 821h1v1h-1zM239 822h1v1h-1zM251 822h1v1h-1zM254 822h1v1h-1zM259 822h1v1h-1zM264 822h1v1h-1zM267 822h1v1h-1zM277 822h1v1h-1zM290 822h1v1h-1zM241 823h1v1h-1zM243 823h1v1h-1zM248 823h1v1h-1zM251 823h2v1h-2zM259 823h1v1h-1zM271 823h1v1h-1zM279 823h1v1h-1zM286 823h1v1h-1zM288 823h2v1h-2zM230 824h1v1h-1zM241 824h5v1h-5zM249 824h3v1h-3zM253 824h2v1h-2zM264 824h2v1h-2zM274 824h1v1h-1zM285 824h1v1h-1zM287 824h1v1h-1zM290 824h1v1h-1zM293 824h1v1h-1zM245 825h2v1h-2zM251 825h1v1h-1zM254 825h1v1h-1zM256 825h1v1h-1zM267 825h1v1h-1zM273 825h1v1h-1zM298 825h1v1h-1zM243 826h1v1h-1zM246 826h1v1h-1zM248 826h1v1h-1zM250 826h5v1h-5zM257 826h1v1h-1zM259 826h2v1h-2zM280 826h1v1h-1zM289 826h1v1h-1zM293 826h1v1h-1zM240 827h1v1h-1zM245 827h1v1h-1zM248 827h1v1h-1zM251 827h2v1h-2zM256 827h1v1h-1zM261 827h1v1h-1zM266 827h1v1h-1zM276 827h1v1h-1zM287 827h1v1h-1zM295 827h1v1h-1zM236 828h1v1h-1zM247 828h1v1h-1zM252 828h2v1h-2zM255 828h1v1h-1zM258 828h1v1h-1zM271 828h1v1h-1zM282 828h1v1h-1zM298 828h1v1h-1zM231 829h1v1h-1zM242 829h1v1h-1zM245 829h1v1h-1zM248 829h1v1h-1zM251 829h1v1h-1zM253 829h1v1h-1zM256 829h2v1h-2zM264 829h1v1h-1zM269 829h1v1h-1zM272 829h2v1h-2zM278 829h2v1h-2zM281 829h1v1h-1zM289 829h1v1h-1zM240 830h1v1h-1zM245 830h1v1h-1zM247 830h2v1h-2zM251 830h2v1h-2zM258 830h1v1h-1zM283 830h1v1h-1zM285 830h1v1h-1zM290 830h1v1h-1zM227 831h1v1h-1zM236 831h1v1h-1zM238 831h1v1h-1zM244 831h1v1h-1zM246 831h2v1h-2zM249 831h2v1h-2zM252 831h1v1h-1zM258 831h2v1h-2zM266 831h1v1h-1zM277 831h1v1h-1zM300 831h2v1h-2zM233 832h1v1h-1zM243 832h2v1h-2zM248 832h1v1h-1zM253 832h1v1h-1zM265 832h1v1h-1zM276 832h1v1h-1zM291 832h1v1h-1zM294 832h1v1h-1zM240 833h1v1h-1zM243 833h1v1h-1zM245 833h2v1h-2zM249 833h1v1h-1zM251 833h2v1h-2zM265 833h1v1h-1zM270 833h1v1h-1zM272 833h1v1h-1zM276 833h1v1h-1zM283 833h1v1h-1zM238 834h1v1h-1zM249 834h3v1h-3zM264 834h1v1h-1zM274 834h2v1h-2zM295 834h1v1h-1zM243 835h1v1h-1zM251 835h1v1h-1zM258 835h1v1h-1zM261 835h1v1h-1zM263 835h2v1h-2zM285 835h1v1h-1zM288 835h1v1h-1zM246 836h1v1h-1zM248 836h1v1h-1zM251 836h1v1h-1zM253 836h1v1h-1zM255 836h1v1h-1zM257 836h2v1h-2zM262 836h1v1h-1zM265 836h1v1h-1zM267 836h1v1h-1zM274 836h1v1h-1zM281 836h1v1h-1zM291 836h1v1h-1zM296 836h1v1h-1zM252 837h2v1h-2zM255 837h2v1h-2zM258 837h1v1h-1zM261 837h1v1h-1zM265 837h1v1h-1zM267 837h1v1h-1zM273 837h1v1h-1zM276 837h2v1h-2zM279 837h2v1h-2zM294 837h1v1h-1zM218 838h1v1h-1zM237 838h1v1h-1zM247 838h1v1h-1zM249 838h5v1h-5zM257 838h3v1h-3zM264 838h1v1h-1zM267 838h1v1h-1zM269 838h5v1h-5zM282 838h1v1h-1zM287 838h1v1h-1zM218 839h1v1h-1zM237 839h1v1h-1zM246 839h1v1h-1zM248 839h6v1h-6zM255 839h4v1h-4zM261 839h3v1h-3zM265 839h1v1h-1zM268 839h1v1h-1zM274 839h3v1h-3zM280 839h1v1h-1zM282 839h2v1h-2zM287 839h1v1h-1zM238 840h1v1h-1zM242 840h1v1h-1zM244 840h3v1h-3zM248 840h5v1h-5zM255 840h2v1h-2zM258 840h6v1h-6zM265 840h1v1h-1zM267 840h1v1h-1zM270 840h1v1h-1zM272 840h1v1h-1zM276 840h1v1h-1zM279 840h2v1h-2zM285 840h1v1h-1zM241 841h1v1h-1zM245 841h6v1h-6zM252 841h3v1h-3zM256 841h8v1h-8zM266 841h1v1h-1zM268 841h3v1h-3zM273 841h1v1h-1zM275 841h1v1h-1zM279 841h2v1h-2zM239 842h1v1h-1zM241 842h2v1h-2zM244 842h3v1h-3zM248 842h9v1h-9zM259 842h7v1h-7zM268 842h1v1h-1zM272 842h6v1h-6zM279 842h2v1h-2zM286 842h1v1h-1zM236 843h1v1h-1zM239 843h3v1h-3zM243 843h28v1h-28zM272 843h4v1h-4zM285 843h2v1h-2zM291 843h1v1h-1zM304 843h1v1h-1zM231 844h1v1h-1zM233 844h1v1h-1zM239 844h20v1h-20zM260 844h4v1h-4zM265 844h5v1h-5zM272 844h6v1h-6zM288 844h1v1h-1zM295 844h1v1h-1zM303 844h1v1h-1zM236 845h1v1h-1zM238 845h5v1h-5zM244 845h5v1h-5zM252 845h14v1h-14zM267 845h3v1h-3zM272 845h2v1h-2zM275 845h6v1h-6zM283 845h2v1h-2zM286 845h1v1h-1zM288 845h2v1h-2zM293 845h1v1h-1zM235 846h1v1h-1zM237 846h2v1h-2zM242 846h2v1h-2zM245 846h1v1h-1zM247 846h14v1h-14zM262 846h6v1h-6zM270 846h1v1h-1zM272 846h7v1h-7zM282 846h2v1h-2zM285 846h1v1h-1zM293 846h1v1h-1zM295 846h2v1h-2zM299 846h1v1h-1zM302 846h1v1h-1zM221 847h1v1h-1zM234 847h2v1h-2zM238 847h7v1h-7zM247 847h13v1h-13zM261 847h7v1h-7zM270 847h4v1h-4zM275 847h6v1h-6zM282 847h2v1h-2zM285 847h3v1h-3zM294 847h1v1h-1zM229 848h1v1h-1zM234 848h1v1h-1zM236 848h6v1h-6zM243 848h24v1h-24zM269 848h3v1h-3zM273 848h1v1h-1zM275 848h2v1h-2zM278 848h5v1h-5zM284 848h1v1h-1zM288 848h1v1h-1zM290 848h1v1h-1zM292 848h1v1h-1zM295 848h1v1h-1zM231 849h2v1h-2zM234 849h12v1h-12zM247 849h4v1h-4zM252 849h6v1h-6zM259 849h8v1h-8zM270 849h15v1h-15zM286 849h1v1h-1zM288 849h2v1h-2zM296 849h1v1h-1zM306 849h1v1h-1zM231 850h1v1h-1zM238 850h3v1h-3zM242 850h16v1h-16zM259 850h1v1h-1zM261 850h7v1h-7zM270 850h3v1h-3zM274 850h4v1h-4zM279 850h7v1h-7zM293 850h1v1h-1zM303 850h1v1h-1zM232 851h2v1h-2zM236 851h10v1h-10zM247 851h5v1h-5zM253 851h12v1h-12zM266 851h2v1h-2zM270 851h1v1h-1zM272 851h3v1h-3zM276 851h1v1h-1zM278 851h2v1h-2zM281 851h1v1h-1zM283 851h1v1h-1zM288 851h4v1h-4zM233 852h5v1h-5zM239 852h17v1h-17zM257 852h1v1h-1zM259 852h13v1h-13zM273 852h1v1h-1zM279 852h1v1h-1zM281 852h1v1h-1zM283 852h1v1h-1zM290 852h2v1h-2zM293 852h1v1h-1zM296 852h2v1h-2zM316 852h1v1h-1zM224 853h1v1h-1zM229 853h1v1h-1zM232 853h1v1h-1zM235 853h1v1h-1zM237 853h10v1h-10zM248 853h9v1h-9zM258 853h4v1h-4zM263 853h3v1h-3zM267 853h2v1h-2zM270 853h10v1h-10zM284 853h3v1h-3zM289 853h1v1h-1zM294 853h1v1h-1zM298 853h1v1h-1zM215 854h1v1h-1zM232 854h2v1h-2zM235 854h8v1h-8zM244 854h1v1h-1zM246 854h18v1h-18zM265 854h1v1h-1zM267 854h4v1h-4zM272 854h6v1h-6zM279 854h1v1h-1zM284 854h1v1h-1zM296 854h1v1h-1zM303 854h1v1h-1zM233 855h1v1h-1zM235 855h6v1h-6zM242 855h4v1h-4zM247 855h4v1h-4zM253 855h5v1h-5zM259 855h7v1h-7zM268 855h2v1h-2zM272 855h3v1h-3zM277 855h5v1h-5zM283 855h2v1h-2zM288 855h2v1h-2zM233 856h3v1h-3zM237 856h1v1h-1zM239 856h1v1h-1zM241 856h3v1h-3zM245 856h1v1h-1zM247 856h16v1h-16zM264 856h7v1h-7zM273 856h10v1h-10zM285 856h2v1h-2zM290 856h1v1h-1zM292 856h1v1h-1zM235 857h1v1h-1zM238 857h2v1h-2zM241 857h1v1h-1zM244 857h5v1h-5zM250 857h1v1h-1zM252 857h1v1h-1zM254 857h7v1h-7zM262 857h6v1h-6zM270 857h3v1h-3zM274 857h3v1h-3zM278 857h1v1h-1zM281 857h1v1h-1zM289 857h1v1h-1zM292 857h2v1h-2zM223 858h1v1h-1zM236 858h12v1h-12zM249 858h5v1h-5zM255 858h13v1h-13zM269 858h2v1h-2zM273 858h1v1h-1zM275 858h1v1h-1zM280 858h3v1h-3zM287 858h1v1h-1zM294 858h1v1h-1zM235 859h1v1h-1zM238 859h22v1h-22zM261 859h1v1h-1zM265 859h3v1h-3zM280 859h1v1h-1zM284 859h1v1h-1zM236 860h1v1h-1zM238 860h6v1h-6zM245 860h1v1h-1zM247 860h4v1h-4zM252 860h2v1h-2zM255 860h6v1h-6zM262 860h3v1h-3zM266 860h3v1h-3zM275 860h2v1h-2zM280 860h1v1h-1zM238 861h5v1h-5zM244 861h5v1h-5zM250 861h2v1h-2zM254 861h4v1h-4zM259 861h1v1h-1zM263 861h2v1h-2zM266 861h2v1h-2zM273 861h1v1h-1zM275 861h2v1h-2zM280 861h3v1h-3zM288 861h2v1h-2zM307 861h1v1h-1zM237 862h6v1h-6zM244 862h1v1h-1zM246 862h1v1h-1zM250 862h6v1h-6zM257 862h1v1h-1zM260 862h1v1h-1zM263 862h1v1h-1zM266 862h1v1h-1zM268 862h1v1h-1zM278 862h1v1h-1zM312 862h1v1h-1zM237 863h2v1h-2zM240 863h4v1h-4zM246 863h1v1h-1zM248 863h1v1h-1zM254 863h1v1h-1zM258 863h1v1h-1zM262 863h1v1h-1zM278 863h1v1h-1zM285 863h1v1h-1zM292 863h1v1h-1zM240 864h1v1h-1zM247 864h1v1h-1zM250 864h1v1h-1zM254 864h1v1h-1zM244 865h1v1h-1zM247 865h1v1h-1zM252 865h1v1h-1zM255 865h1v1h-1zM286 865h1v1h-1zM298 865h1v1h-1zM250 866h1v1h-1zM255 866h1v1h-1zM266 866h1v1h-1zM275 868h2v1h-2zM263 869h1v1h-1zM262 870h1v1h-1zM258 871h1v1h-1z" fill="#000"/>
<path d="M411 764h1v1h-1zM401 773h1v1h-1zM442 774h1v1h-1zM436 775h1v1h-1zM448 776h1v1h-1zM427 778h1v1h-1zM433 778h1v1h-1zM444 778h1v1h-1zM436 779h1v1h-1zM448 779h1v1h-1zM453 779h1v1h-1zM441 780h1v1h-1zM442 781h1v1h-1zM444 781h1v1h-1zM446 781h2v1h-2zM450 781h1v1h-1zM455 781h1v1h-1zM433 782h1v1h-1zM437 782h1v1h-1zM442 782h1v1h-1zM452 782h1v1h-1zM446 783h1v1h-1zM466 783h1v1h-1zM435 784h1v1h-1zM439 784h1v1h-1zM442 784h1v1h-1zM446 784h1v1h-1zM452 784h1v1h-1zM426 785h1v1h-1zM434 785h3v1h-3zM442 785h1v1h-1zM448 785h1v1h-1zM455 785h1v1h-1zM458 785h1v1h-1zM430 786h1v1h-1zM432 786h1v1h-1zM447 786h1v1h-1zM450 786h1v1h-1zM457 786h1v1h-1zM459 786h1v1h-1zM427 787h1v1h-1zM437 787h1v1h-1zM439 787h1v1h-1zM451 787h1v1h-1zM435 788h1v1h-1zM447 788h2v1h-2zM451 788h3v1h-3zM455 788h1v1h-1zM400 789h1v1h-1zM426 789h1v1h-1zM434 789h1v1h-1zM439 789h1v1h-1zM450 789h2v1h-2zM453 789h3v1h-3zM429 790h2v1h-2zM434 790h1v1h-1zM439 790h1v1h-1zM447 790h1v1h-1zM449 790h1v1h-1zM453 790h1v1h-1zM420 791h1v1h-1zM428 791h2v1h-2zM443 791h1v1h-1zM447 791h1v1h-1zM428 792h1v1h-1zM438 792h1v1h-1zM446 792h1v1h-1zM450 792h3v1h-3zM421 793h1v1h-1zM427 793h1v1h-1zM429 793h1v1h-1zM431 793h3v1h-3zM444 793h1v1h-1zM447 793h1v1h-1zM428 794h1v1h-1zM460 794h2v1h-2zM498 794h1v1h-1zM425 795h1v1h-1zM428 795h1v1h-1zM433 795h1v1h-1zM435 795h1v1h-1zM444 795h1v1h-1zM448 795h1v1h-1zM453 795h1v1h-1zM432 796h1v1h-1zM434 796h1v1h-1zM438 796h2v1h-2zM441 796h1v1h-1zM460 796h1v1h-1zM429 797h1v1h-1zM435 797h1v1h-1zM444 797h1v1h-1zM446 797h1v1h-1zM450 797h1v1h-1zM459 797h1v1h-1zM427 798h1v1h-1zM434 798h2v1h-2zM447 798h1v1h-1zM460 798h1v1h-1zM422 799h1v1h-1zM424 799h1v1h-1zM430 799h1v1h-1zM436 799h1v1h-1zM440 799h3v1h-3zM447 799h2v1h-2zM453 799h2v1h-2zM457 799h1v1h-1zM422 800h1v1h-1zM437 800h1v1h-1zM443 800h1v1h-1zM458 800h1v1h-1zM464 800h1v1h-1zM416 801h1v1h-1zM429 801h1v1h-1zM442 801h2v1h-2zM449 801h1v1h-1zM455 801h1v1h-1zM457 801h1v1h-1zM460 801h1v1h-1zM418 802h1v1h-1zM424 802h1v1h-1zM432 802h1v1h-1zM434 802h1v1h-1zM439 802h2v1h-2zM442 802h1v1h-1zM445 802h1v1h-1zM457 802h2v1h-2zM460 802h1v1h-1zM432 803h1v1h-1zM434 803h1v1h-1zM444 803h1v1h-1zM450 803h1v1h-1zM455 803h1v1h-1zM464 803h1v1h-1zM500 803h1v1h-1zM442 804h1v1h-1zM449 804h1v1h-1zM452 804h1v1h-1zM457 804h1v1h-1zM427 805h3v1h-3zM433 805h1v1h-1zM436 805h1v1h-1zM440 805h1v1h-1zM443 805h1v1h-1zM453 805h1v1h-1zM418 806h1v1h-1zM429 806h1v1h-1zM431 806h1v1h-1zM437 806h1v1h-1zM441 806h3v1h-3zM453 806h1v1h-1zM418 807h1v1h-1zM422 807h1v1h-1zM428 807h1v1h-1zM436 807h1v1h-1zM440 807h1v1h-1zM442 807h1v1h-1zM445 807h1v1h-1zM460 807h1v1h-1zM467 807h1v1h-1zM430 808h1v1h-1zM432 808h1v1h-1zM453 808h1v1h-1zM455 808h1v1h-1zM459 808h2v1h-2zM436 809h1v1h-1zM440 809h1v1h-1zM442 809h1v1h-1zM444 809h1v1h-1zM447 809h3v1h-3zM451 809h1v1h-1zM454 809h1v1h-1zM456 809h1v1h-1zM462 809h2v1h-2zM438 810h2v1h-2zM444 810h1v1h-1zM446 810h1v1h-1zM451 810h1v1h-1zM459 810h3v1h-3zM464 810h1v1h-1zM432 811h2v1h-2zM436 811h1v1h-1zM438 811h1v1h-1zM444 811h2v1h-2zM455 811h1v1h-1zM460 811h1v1h-1zM464 811h1v1h-1zM425 812h3v1h-3zM466 812h1v1h-1zM422 813h1v1h-1zM424 813h1v1h-1zM429 813h1v1h-1zM431 813h1v1h-1zM434 813h1v1h-1zM448 813h1v1h-1zM456 813h1v1h-1zM462 813h2v1h-2zM469 813h1v1h-1zM428 814h1v1h-1zM431 814h1v1h-1zM438 814h1v1h-1zM440 814h1v1h-1zM462 814h1v1h-1zM466 814h1v1h-1zM427 815h1v1h-1zM434 815h1v1h-1zM440 815h1v1h-1zM442 815h1v1h-1zM446 815h1v1h-1zM454 815h2v1h-2zM457 815h2v1h-2zM464 815h1v1h-1zM426 816h1v1h-1zM428 816h1v1h-1zM437 816h1v1h-1zM440 816h3v1h-3zM454 816h2v1h-2zM465 816h1v1h-1zM488 816h1v1h-1zM428 817h4v1h-4zM444 817h1v1h-1zM446 817h1v1h-1zM450 817h1v1h-1zM458 817h1v1h-1zM465 817h1v1h-1zM430 818h2v1h-2zM439 818h1v1h-1zM443 818h1v1h-1zM445 818h1v1h-1zM458 818h1v1h-1zM460 818h1v1h-1zM432 819h1v1h-1zM436 819h1v1h-1zM438 819h1v1h-1zM443 819h1v1h-1zM449 819h2v1h-2zM457 819h1v1h-1zM433 820h1v1h-1zM438 820h1v1h-1zM448 820h1v1h-1zM461 820h1v1h-1zM428 821h1v1h-1zM430 821h1v1h-1zM432 821h2v1h-2zM444 821h1v1h-1zM450 821h1v1h-1zM459 821h1v1h-1zM465 821h1v1h-1zM421 822h2v1h-2zM426 822h1v1h-1zM428 822h1v1h-1zM432 822h1v1h-1zM437 822h1v1h-1zM442 822h1v1h-1zM444 822h2v1h-2zM452 822h1v1h-1zM456 822h1v1h-1zM462 822h1v1h-1zM467 822h1v1h-1zM446 823h2v1h-2zM449 823h1v1h-1zM456 823h1v1h-1zM422 824h1v1h-1zM433 824h1v1h-1zM435 824h1v1h-1zM444 824h1v1h-1zM448 824h1v1h-1zM450 824h1v1h-1zM454 824h1v1h-1zM459 824h1v1h-1zM421 825h2v1h-2zM425 825h2v1h-2zM429 825h3v1h-3zM442 825h2v1h-2zM445 825h1v1h-1zM453 825h1v1h-1zM458 825h2v1h-2zM463 825h1v1h-1zM423 826h1v1h-1zM425 826h2v1h-2zM435 826h1v1h-1zM439 826h1v1h-1zM448 826h2v1h-2zM455 826h1v1h-1zM457 826h1v1h-1zM460 826h1v1h-1zM463 826h1v1h-1zM401 827h1v1h-1zM419 827h1v1h-1zM423 827h1v1h-1zM432 827h1v1h-1zM434 827h1v1h-1zM457 827h1v1h-1zM461 827h1v1h-1zM463 827h1v1h-1zM416 828h1v1h-1zM421 828h1v1h-1zM425 828h2v1h-2zM439 828h1v1h-1zM442 828h2v1h-2zM449 828h1v1h-1zM452 828h2v1h-2zM457 828h1v1h-1zM465 828h1v1h-1zM412 829h1v1h-1zM418 829h2v1h-2zM425 829h1v1h-1zM431 829h1v1h-1zM441 829h2v1h-2zM448 829h1v1h-1zM455 829h2v1h-2zM458 829h1v1h-1zM463 829h1v1h-1zM421 830h1v1h-1zM425 830h1v1h-1zM432 830h1v1h-1zM437 830h1v1h-1zM442 830h2v1h-2zM453 830h1v1h-1zM456 830h1v1h-1zM458 830h1v1h-1zM463 830h1v1h-1zM472 830h1v1h-1zM430 831h1v1h-1zM436 831h3v1h-3zM444 831h1v1h-1zM460 831h1v1h-1zM466 831h1v1h-1zM472 831h1v1h-1zM417 832h1v1h-1zM424 832h1v1h-1zM429 832h1v1h-1zM433 832h1v1h-1zM439 832h1v1h-1zM446 832h1v1h-1zM458 832h1v1h-1zM381 833h1v1h-1zM403 833h1v1h-1zM417 833h1v1h-1zM425 833h1v1h-1zM431 833h1v1h-1zM433 833h1v1h-1zM443 833h1v1h-1zM462 833h1v1h-1zM473 833h1v1h-1zM414 834h1v1h-1zM416 834h1v1h-1zM421 834h1v1h-1zM431 834h4v1h-4zM444 834h1v1h-1zM468 834h2v1h-2zM426 835h2v1h-2zM429 835h2v1h-2zM434 835h2v1h-2zM438 835h3v1h-3zM442 835h2v1h-2zM448 835h1v1h-1zM452 835h1v1h-1zM454 835h1v1h-1zM460 835h2v1h-2zM465 835h1v1h-1zM386 836h1v1h-1zM414 836h1v1h-1zM416 836h1v1h-1zM421 836h1v1h-1zM423 836h2v1h-2zM426 836h1v1h-1zM428 836h1v1h-1zM430 836h2v1h-2zM433 836h2v1h-2zM438 836h2v1h-2zM441 836h3v1h-3zM445 836h1v1h-1zM448 836h1v1h-1zM463 836h2v1h-2zM468 836h1v1h-1zM477 836h1v1h-1zM404 837h1v1h-1zM417 837h3v1h-3zM421 837h1v1h-1zM423 837h4v1h-4zM428 837h1v1h-1zM430 837h1v1h-1zM432 837h4v1h-4zM437 837h4v1h-4zM443 837h1v1h-1zM445 837h2v1h-2zM448 837h4v1h-4zM457 837h1v1h-1zM410 838h1v1h-1zM416 838h1v1h-1zM420 838h1v1h-1zM422 838h3v1h-3zM427 838h1v1h-1zM429 838h2v1h-2zM432 838h2v1h-2zM435 838h3v1h-3zM439 838h1v1h-1zM441 838h3v1h-3zM446 838h5v1h-5zM452 838h1v1h-1zM454 838h4v1h-4zM473 838h1v1h-1zM414 839h1v1h-1zM416 839h1v1h-1zM418 839h4v1h-4zM424 839h21v1h-21zM446 839h4v1h-4zM453 839h1v1h-1zM462 839h1v1h-1zM465 839h1v1h-1zM472 839h1v1h-1zM498 839h1v1h-1zM411 840h2v1h-2zM414 840h3v1h-3zM418 840h16v1h-16zM435 840h13v1h-13zM450 840h3v1h-3zM454 840h1v1h-1zM464 840h1v1h-1zM468 840h1v1h-1zM416 841h2v1h-2zM419 841h4v1h-4zM424 841h1v1h-1zM426 841h18v1h-18zM445 841h12v1h-12zM463 841h1v1h-1zM484 841h1v1h-1zM402 842h1v1h-1zM414 842h1v1h-1zM416 842h13v1h-13zM431 842h2v1h-2zM434 842h17v1h-17zM452 842h5v1h-5zM458 842h1v1h-1zM460 842h2v1h-2zM473 842h1v1h-1zM404 843h1v1h-1zM409 843h1v1h-1zM413 843h2v1h-2zM416 843h2v1h-2zM419 843h23v1h-23zM443 843h3v1h-3zM447 843h8v1h-8zM456 843h2v1h-2zM460 843h1v1h-1zM462 843h1v1h-1zM411 844h2v1h-2zM414 844h7v1h-7zM422 844h1v1h-1zM424 844h6v1h-6zM433 844h7v1h-7zM441 844h8v1h-8zM450 844h2v1h-2zM453 844h8v1h-8zM462 844h2v1h-2zM472 844h1v1h-1zM476 844h1v1h-1zM480 844h1v1h-1zM490 844h1v1h-1zM396 845h1v1h-1zM400 845h1v1h-1zM415 845h7v1h-7zM423 845h2v1h-2zM426 845h5v1h-5zM432 845h3v1h-3zM436 845h3v1h-3zM441 845h7v1h-7zM449 845h13v1h-13zM410 846h2v1h-2zM413 846h3v1h-3zM417 846h1v1h-1zM419 846h27v1h-27zM447 846h9v1h-9zM458 846h2v1h-2zM461 846h1v1h-1zM463 846h1v1h-1zM479 846h1v1h-1zM397 847h1v1h-1zM408 847h1v1h-1zM411 847h1v1h-1zM414 847h1v1h-1zM416 847h9v1h-9zM426 847h2v1h-2zM429 847h13v1h-13zM443 847h1v1h-1zM445 847h2v1h-2zM448 847h6v1h-6zM455 847h4v1h-4zM460 847h1v1h-1zM462 847h1v1h-1zM413 848h1v1h-1zM415 848h3v1h-3zM419 848h2v1h-2zM422 848h4v1h-4zM427 848h2v1h-2zM431 848h4v1h-4zM436 848h3v1h-3zM440 848h2v1h-2zM443 848h3v1h-3zM447 848h8v1h-8zM456 848h1v1h-1zM458 848h2v1h-2zM463 848h1v1h-1zM488 848h1v1h-1zM397 849h1v1h-1zM404 849h1v1h-1zM410 849h7v1h-7zM418 849h3v1h-3zM422 849h1v1h-1zM424 849h1v1h-1zM426 849h4v1h-4zM431 849h7v1h-7zM439 849h17v1h-17zM457 849h4v1h-4zM466 849h1v1h-1zM381 850h1v1h-1zM398 850h1v1h-1zM409 850h7v1h-7zM417 850h1v1h-1zM419 850h13v1h-13zM433 850h5v1h-5zM440 850h8v1h-8zM449 850h3v1h-3zM453 850h7v1h-7zM464 850h1v1h-1zM411 851h7v1h-7zM420 851h3v1h-3zM424 851h6v1h-6zM431 851h16v1h-16zM448 851h1v1h-1zM450 851h1v1h-1zM452 851h3v1h-3zM456 851h1v1h-1zM458 851h2v1h-2zM461 851h2v1h-2zM464 851h1v1h-1zM478 851h2v1h-2zM411 852h1v1h-1zM414 852h11v1h-11zM427 852h7v1h-7zM436 852h4v1h-4zM441 852h16v1h-16zM458 852h1v1h-1zM468 852h1v1h-1zM387 853h1v1h-1zM409 853h1v1h-1zM412 853h24v1h-24zM437 853h7v1h-7zM446 853h6v1h-6zM453 853h2v1h-2zM457 853h4v1h-4zM475 853h1v1h-1zM408 854h1v1h-1zM410 854h1v1h-1zM412 854h3v1h-3zM417 854h3v1h-3zM421 854h1v1h-1zM424 854h6v1h-6zM431 854h1v1h-1zM433 854h6v1h-6zM440 854h17v1h-17zM458 854h2v1h-2zM384 855h1v1h-1zM395 855h1v1h-1zM398 855h1v1h-1zM403 855h1v1h-1zM411 855h5v1h-5zM418 855h8v1h-8zM427 855h5v1h-5zM434 855h1v1h-1zM436 855h3v1h-3zM441 855h13v1h-13zM455 855h3v1h-3zM460 855h1v1h-1zM487 855h1v1h-1zM411 856h1v1h-1zM413 856h1v1h-1zM415 856h14v1h-14zM431 856h3v1h-3zM435 856h3v1h-3zM439 856h4v1h-4zM445 856h7v1h-7zM453 856h2v1h-2zM457 856h1v1h-1zM470 856h1v1h-1zM393 857h1v1h-1zM411 857h5v1h-5zM417 857h9v1h-9zM427 857h4v1h-4zM432 857h1v1h-1zM434 857h11v1h-11zM447 857h7v1h-7zM455 857h2v1h-2zM459 857h1v1h-1zM416 858h1v1h-1zM418 858h24v1h-24zM444 858h1v1h-1zM446 858h1v1h-1zM448 858h3v1h-3zM452 858h2v1h-2zM456 858h1v1h-1zM458 858h2v1h-2zM466 858h1v1h-1zM473 858h1v1h-1zM409 859h1v1h-1zM411 859h1v1h-1zM415 859h1v1h-1zM417 859h1v1h-1zM419 859h1v1h-1zM424 859h1v1h-1zM428 859h1v1h-1zM430 859h2v1h-2zM434 859h6v1h-6zM441 859h3v1h-3zM445 859h1v1h-1zM447 859h2v1h-2zM453 859h1v1h-1zM459 859h1v1h-1zM463 859h1v1h-1zM409 860h1v1h-1zM421 860h3v1h-3zM426 860h2v1h-2zM429 860h2v1h-2zM432 860h2v1h-2zM436 860h2v1h-2zM439 860h3v1h-3zM444 860h1v1h-1zM449 860h1v1h-1zM396 861h1v1h-1zM421 861h1v1h-1zM424 861h2v1h-2zM430 861h3v1h-3zM435 861h1v1h-1zM438 861h1v1h-1zM442 861h1v1h-1zM445 861h1v1h-1zM453 861h1v1h-1zM461 861h1v1h-1zM416 862h1v1h-1zM419 862h1v1h-1zM428 862h1v1h-1zM433 862h1v1h-1zM451 862h1v1h-1zM444 863h1v1h-1zM435 864h1v1h-1zM448 865h1v1h-1zM452 865h1v1h-1zM466 865h1v1h-1zM398 866h1v1h-1zM401 866h1v1h-1zM502 866h1v1h-1zM437 867h1v1h-1zM483 867h1v1h-1z" fill="#000"/>
<text x="0.48" y="18.75" font-size="25.91" textLength="19.24" lengthAdjust="spacingAndGlyphs" stroke-width="0.00">A</text>
<text x="-0.45" y="416.50" font-size="25.69" textLength="17.82" lengthAdjust="spacingAndGlyphs" stroke-width="0.00">B</text>
<text x="-0.10" y="710.20" font-size="26.43" textLength="17.45" lengthAdjust="spacingAndGlyphs" stroke-width="0.00">C</text>
<text x="151.62" y="28.30" font-size="15.62" textLength="29.37" lengthAdjust="spacingAndGlyphs" stroke-width="0.47">IFN-</text>
<text x="368.73" y="28.80" font-size="16.43" textLength="29.28" lengthAdjust="spacingAndGlyphs" stroke-width="0.49">IL-2</text>
<text x="83.02" y="221.00" font-size="17.37" textLength="29.61" lengthAdjust="spacingAndGlyphs" stroke-width="0.52">IL-4</text>
<text x="259.49" y="220.70" font-size="16.93" textLength="30.39" lengthAdjust="spacingAndGlyphs" stroke-width="0.51">IL-5</text>
<text x="448.05" y="221.30" font-size="16.86" textLength="41.13" lengthAdjust="spacingAndGlyphs" stroke-width="0.51">IL-10</text>
<text x="71.91" y="60.50" font-size="10.57" textLength="29.63" lengthAdjust="spacingAndGlyphs" stroke-width="0.32">10000</text>
<text x="77.88" y="117.90" font-size="10.71" textLength="23.64" lengthAdjust="spacingAndGlyphs" stroke-width="0.32">5000</text>
<text x="93.58" y="169.20" font-size="10.29" textLength="5.85" lengthAdjust="spacingAndGlyphs" stroke-width="0.31">0</text>
<text x="299.92" y="59.10" font-size="10.29" textLength="29.21" lengthAdjust="spacingAndGlyphs" stroke-width="0.31">10000</text>
<text x="305.68" y="116.50" font-size="10.71" textLength="23.74" lengthAdjust="spacingAndGlyphs" stroke-width="0.32">5000</text>
<text x="322.85" y="167.00" font-size="10.14" textLength="6.32" lengthAdjust="spacingAndGlyphs" stroke-width="0.30">0</text>
<text x="0.61" y="249.10" font-size="10.29" textLength="29.52" lengthAdjust="spacingAndGlyphs" stroke-width="0.31">10000</text>
<text x="6.89" y="306.20" font-size="10.14" textLength="23.23" lengthAdjust="spacingAndGlyphs" stroke-width="0.30">5000</text>
<text x="22.21" y="357.40" font-size="9.71" textLength="5.39" lengthAdjust="spacingAndGlyphs" stroke-width="0.29">0</text>
<text x="176.92" y="247.40" font-size="10.43" textLength="29.21" lengthAdjust="spacingAndGlyphs" stroke-width="0.31">10000</text>
<text x="183.49" y="304.30" font-size="9.57" textLength="23.12" lengthAdjust="spacingAndGlyphs" stroke-width="0.29">5000</text>
<text x="198.52" y="356.00" font-size="10.14" textLength="6.67" lengthAdjust="spacingAndGlyphs" stroke-width="0.30">0</text>
<text x="366.92" y="246.80" font-size="10.29" textLength="29.21" lengthAdjust="spacingAndGlyphs" stroke-width="0.31">10000</text>
<text x="372.88" y="304.30" font-size="9.86" textLength="23.43" lengthAdjust="spacingAndGlyphs" stroke-width="0.30">5000</text>
<text x="388.33" y="356.00" font-size="10.14" textLength="6.56" lengthAdjust="spacingAndGlyphs" stroke-width="0.30">0</text>
<text x="121.25" y="181.70" font-size="11.45" textLength="40.02" lengthAdjust="spacingAndGlyphs" stroke-width="0.34">before</text>
<text x="180.41" y="181.70" font-size="11.45" textLength="28.25" lengthAdjust="spacingAndGlyphs" stroke-width="0.34">after</text>
<text x="346.83" y="181.40" font-size="12.55" textLength="40.75" lengthAdjust="spacingAndGlyphs" stroke-width="0.38">before</text>
<text x="405.91" y="181.40" font-size="12.55" textLength="28.46" lengthAdjust="spacingAndGlyphs" stroke-width="0.38">after</text>
<text x="49.04" y="369.70" font-size="12.55" textLength="40.23" lengthAdjust="spacingAndGlyphs" stroke-width="0.38">before</text>
<text x="110.60" y="369.70" font-size="12.55" textLength="28.66" lengthAdjust="spacingAndGlyphs" stroke-width="0.38">after</text>
<text x="225.64" y="369.70" font-size="12.55" textLength="40.44" lengthAdjust="spacingAndGlyphs" stroke-width="0.38">before</text>
<text x="288.41" y="369.70" font-size="12.55" textLength="28.25" lengthAdjust="spacingAndGlyphs" stroke-width="0.38">after</text>
<text x="416.46" y="369.70" font-size="12.55" textLength="39.40" lengthAdjust="spacingAndGlyphs" stroke-width="0.38">before</text>
<text x="478.50" y="369.70" font-size="12.55" textLength="28.56" lengthAdjust="spacingAndGlyphs" stroke-width="0.38">after</text>
<text x="34.21" y="433.10" font-size="11.29" textLength="12.88" lengthAdjust="spacingAndGlyphs" stroke-width="0.34">30</text>
<text x="34.50" y="498.70" font-size="11.71" textLength="12.57" lengthAdjust="spacingAndGlyphs" stroke-width="0.35">20</text>
<text x="33.76" y="561.30" font-size="11.57" textLength="12.73" lengthAdjust="spacingAndGlyphs" stroke-width="0.35">10</text>
<text x="41.32" y="626.60" font-size="11.29" textLength="6.67" lengthAdjust="spacingAndGlyphs" stroke-width="0.34">0</text>
<text x="100.45" y="642.50" font-size="11.43" textLength="6.32" lengthAdjust="spacingAndGlyphs" stroke-width="0.34">0</text>
<text x="196.43" y="643.50" font-size="11.53" textLength="6.24" lengthAdjust="spacingAndGlyphs" stroke-width="0.35">4</text>
<text x="91.25" y="663.30" font-size="12.55" textLength="132.40" lengthAdjust="spacingAndGlyphs" stroke-width="0.38">weeks of vaccination</text>
<text transform="translate(11.80,600.37) rotate(-90)" x="0" y="0" font-size="13.81" textLength="143.04" lengthAdjust="spacingAndGlyphs" stroke-width="0.41">IFN-<tspan class="gi">γ</tspan>/IL-4 ratio (x1000)</text>
<text x="307.42" y="429.60" font-size="11.57" textLength="12.67" lengthAdjust="spacingAndGlyphs" stroke-width="0.35">30</text>
<text x="307.29" y="494.80" font-size="11.86" textLength="13.11" lengthAdjust="spacingAndGlyphs" stroke-width="0.36">20</text>
<text x="306.66" y="557.60" font-size="11.43" textLength="12.62" lengthAdjust="spacingAndGlyphs" stroke-width="0.34">10</text>
<text x="313.92" y="622.60" font-size="11.43" textLength="6.67" lengthAdjust="spacingAndGlyphs" stroke-width="0.34">0</text>
<text x="373.16" y="640.40" font-size="11.43" textLength="6.09" lengthAdjust="spacingAndGlyphs" stroke-width="0.34">0</text>
<text x="469.14" y="641.90" font-size="11.24" textLength="5.82" lengthAdjust="spacingAndGlyphs" stroke-width="0.34">4</text>
<text x="363.70" y="660.90" font-size="12.00" textLength="132.55" lengthAdjust="spacingAndGlyphs" stroke-width="0.36">weeks of vaccination</text>
<text transform="translate(284.70,593.67) rotate(-90)" x="0" y="0" font-size="14.24" textLength="143.09" lengthAdjust="spacingAndGlyphs" stroke-width="0.43">IFN-<tspan class="gi">γ</tspan>/IL-4 ratio (x1000)</text>
<text x="83.24" y="723.00" font-size="11.45" textLength="48.79" lengthAdjust="spacingAndGlyphs" stroke-width="0.34">Patient 1</text>
<text x="253.03" y="722.80" font-size="11.17" textLength="49.11" lengthAdjust="spacingAndGlyphs" stroke-width="0.34">Patient 3</text>
<text x="422.03" y="722.90" font-size="11.31" textLength="49.30" lengthAdjust="spacingAndGlyphs" stroke-width="0.34">Patient 5</text>
<text x="46.64" y="748.70" font-size="9.86" textLength="23.72" lengthAdjust="spacingAndGlyphs" stroke-width="0.30">2.2%</text>
<text x="149.35" y="747.80" font-size="9.57" textLength="28.51" lengthAdjust="spacingAndGlyphs" stroke-width="0.29">19.1%</text>
<text x="149.95" y="870.10" font-size="9.71" textLength="27.80" lengthAdjust="spacingAndGlyphs" stroke-width="0.29">42.5%</text>
<text x="215.79" y="748.80" font-size="10.22" textLength="23.56" lengthAdjust="spacingAndGlyphs" stroke-width="0.31">5.5%</text>
<text x="323.69" y="747.50" font-size="9.29" textLength="23.46" lengthAdjust="spacingAndGlyphs" stroke-width="0.28">8.5%</text>
<text x="318.35" y="870.80" font-size="10.14" textLength="28.61" lengthAdjust="spacingAndGlyphs" stroke-width="0.30">43.8%</text>
<text x="383.28" y="747.70" font-size="10.00" textLength="23.67" lengthAdjust="spacingAndGlyphs" stroke-width="0.30">0.6%</text>
<text x="483.44" y="748.10" font-size="9.71" textLength="28.32" lengthAdjust="spacingAndGlyphs" stroke-width="0.29">11.6%</text>
<text x="486.05" y="870.50" font-size="9.71" textLength="28.10" lengthAdjust="spacingAndGlyphs" stroke-width="0.29">72.9%</text>
<text transform="translate(9.60,846.96) rotate(-90)" x="0" y="0" font-size="12.28" textLength="20.86" lengthAdjust="spacingAndGlyphs" stroke-width="0.37">IL-4</text>
<text x="63.06" y="914.90" font-size="11.97" textLength="22.19" lengthAdjust="spacingAndGlyphs" stroke-width="0.36">IFN-</text>
<text class="g" x="180.72" y="28.13" font-size="15.07" textLength="6.60" lengthAdjust="spacingAndGlyphs" stroke-width="0.45">γ</text>
<text class="g" x="84.52" y="915.07" font-size="12.99" textLength="6.60" lengthAdjust="spacingAndGlyphs" stroke-width="0.39">γ</text>
</svg>
</body></html>
